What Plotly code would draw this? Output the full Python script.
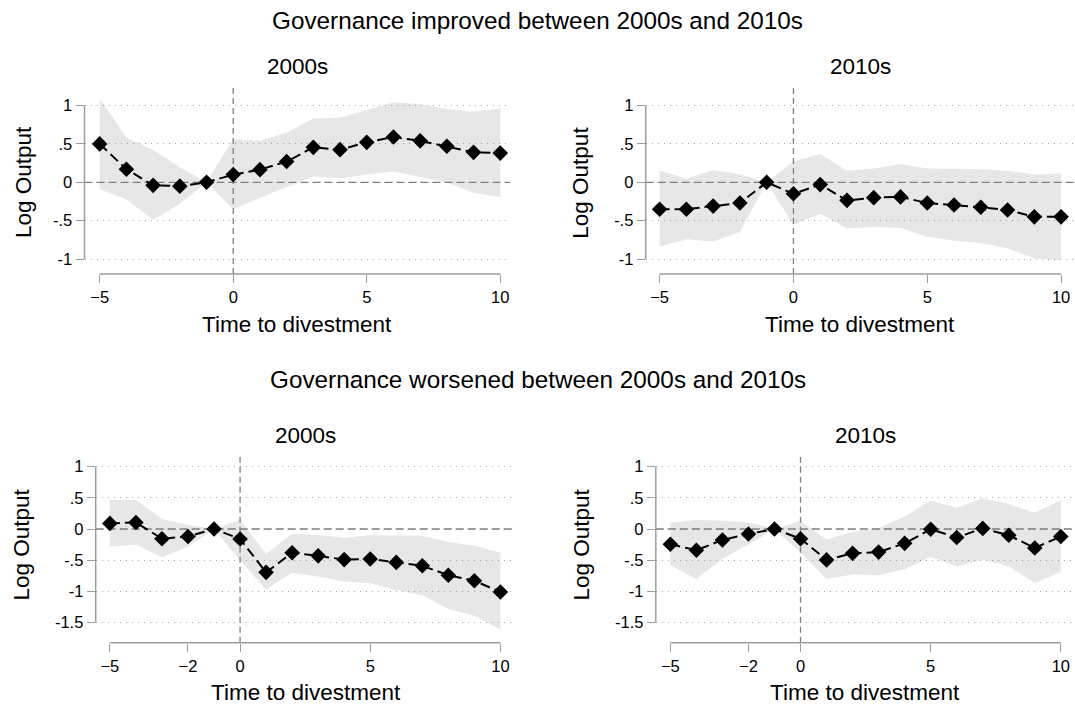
import plotly.graph_objects as go

# Event time (years relative to divestment)
event_time = list(range(-5, 11))

# Governance improved between 2000s and 2010s
improved_2000s_coef = [0.50, 0.17, -0.04, -0.05, 0.0, 0.10, 0.165, 0.27, 0.455, 0.425, 0.52, 0.59, 0.54, 0.47, 0.39, 0.38]
improved_2000s_hi = [1.09, 0.585, 0.42, 0.195, 0.0, 0.565, 0.54, 0.645, 0.83, 0.84, 0.94, 1.04, 1.02, 0.955, 0.92, 0.96]
improved_2000s_lo = [-0.09, -0.22, -0.49, -0.28, 0.0, -0.35, -0.20, -0.065, 0.08, 0.05, 0.10, 0.14, 0.07, 0.0, -0.135, -0.19]

improved_2010s_coef = [-0.35, -0.35, -0.31, -0.27, 0.0, -0.15, -0.03, -0.235, -0.20, -0.19, -0.27, -0.295, -0.325, -0.36, -0.45, -0.45]
improved_2010s_hi = [0.155, 0.045, 0.16, 0.105, 0.0, 0.27, 0.37, 0.15, 0.18, 0.235, 0.18, 0.175, 0.17, 0.15, 0.10, 0.115]
improved_2010s_lo = [-0.84, -0.74, -0.77, -0.645, 0.0, -0.555, -0.41, -0.60, -0.58, -0.595, -0.71, -0.76, -0.79, -0.86, -0.99, -1.015]

# Governance worsened between 2000s and 2010s
worsened_2000s_coef = [0.09, 0.105, -0.155, -0.12, 0.0, -0.16, -0.695, -0.38, -0.43, -0.49, -0.48, -0.535, -0.59, -0.74, -0.83, -1.01]
worsened_2000s_hi = [0.465, 0.465, 0.16, 0.065, 0.0, 0.15, -0.40, -0.075, -0.095, -0.14, -0.10, -0.10, -0.11, -0.21, -0.27, -0.38]
worsened_2000s_lo = [-0.28, -0.25, -0.455, -0.28, 0.0, -0.50, -0.97, -0.70, -0.76, -0.84, -0.87, -0.98, -1.06, -1.28, -1.39, -1.61]

worsened_2010s_coef = [-0.245, -0.34, -0.175, -0.08, 0.0, -0.155, -0.495, -0.39, -0.37, -0.23, -0.005, -0.135, 0.01, -0.10, -0.305, -0.12]
worsened_2010s_hi = [0.10, 0.145, 0.135, 0.105, 0.0, 0.13, -0.165, -0.05, 0.015, 0.20, 0.455, 0.34, 0.49, 0.40, 0.26, 0.46]
worsened_2010s_lo = [-0.58, -0.80, -0.475, -0.25, 0.0, -0.38, -0.80, -0.73, -0.74, -0.645, -0.445, -0.60, -0.49, -0.60, -0.865, -0.69]

# Tick labels
top_ytick_vals = [-1, -0.5, 0, 0.5, 1]
top_ytick_text = ["-1", "-.5", "0", ".5", "1"]
bottom_ytick_vals = [-1.5, -1, -0.5, 0, 0.5, 1]
bottom_ytick_text = ["-1.5", "-1", "-.5", "0", ".5", "1"]
top_xtick_vals = [-5, 0, 5, 10]
bottom_xtick_vals = [-5, -2, 0, 5, 10]

section_titles = ["Governance improved between 2000s and 2010s",
                  "Governance worsened between 2000s and 2010s"]
panel_titles = ["2000s", "2010s", "2000s", "2010s"]
x_title = "Time to divestment"
y_title = "Log Output"

FONT = "Arial, 'Liberation Sans', sans-serif"
W, H = 1075, 706
AXIS_GREY = "#9c9c9c"
REF_GREY = "#7f7f7f"
BAND = "rgba(120,120,120,0.18)"
TICK_SIZE = 16.5
LABEL_SIZE = 22.5

# panel layout: (x domain, y domain, x range, y range, xticks, yticks, yticktext, series)
panels = [
    dict(xd=[84.5 / W, 510.4 / W], yd=[1 - 274 / H, 1 - 84 / H], xr=[-5.57, 10.38], yr=[-1.194, 1.28],
         xt=top_xtick_vals, yt=top_ytick_vals, ytt=top_ytick_text,
         coef=improved_2000s_coef, hi=improved_2000s_hi, lo=improved_2000s_lo, ytx=23.7),
    dict(xd=[645.7 / W, 1.0], yd=[1 - 274 / H, 1 - 84 / H], xr=[-5.52, 10.52], yr=[-1.194, 1.28],
         xt=top_xtick_vals, yt=top_ytick_vals, ytt=top_ytick_text,
         coef=improved_2010s_coef, hi=improved_2010s_hi, lo=improved_2010s_lo, ytx=580.4),
    dict(xd=[95.7 / W, 515.5 / W], yd=[1 - 642.7 / H, 1 - 453 / H], xr=[-5.545, 10.58], yr=[-1.822, 1.218],
         xt=bottom_xtick_vals, yt=bottom_ytick_vals, ytt=bottom_ytick_text,
         coef=worsened_2000s_coef, hi=worsened_2000s_hi, lo=worsened_2000s_lo, ytx=22.0),
    dict(xd=[655.8 / W, 1.0], yd=[1 - 642.7 / H, 1 - 453 / H], xr=[-5.56, 10.545], yr=[-1.822, 1.218],
         xt=bottom_xtick_vals, yt=bottom_ytick_vals, ytt=bottom_ytick_text,
         coef=worsened_2010s_coef, hi=worsened_2010s_hi, lo=worsened_2010s_lo, ytx=582.0),
]

fig = go.Figure()
layout = {}
shapes = []
annotations = []

for i, p in enumerate(panels):
    n = "" if i == 0 else str(i + 1)
    xa, ya = "x" + n, "y" + n

    # confidence band
    fig.add_trace(go.Scatter(x=event_time, y=p["lo"], mode="lines", line=dict(width=0),
                             xaxis=xa, yaxis=ya, showlegend=False, hoverinfo="skip"))
    fig.add_trace(go.Scatter(x=event_time, y=p["hi"], mode="lines", line=dict(width=0),
                             fill="tonexty", fillcolor=BAND,
                             xaxis=xa, yaxis=ya, showlegend=False, hoverinfo="skip"))

    # reference lines at zero
    fig.add_trace(go.Scatter(x=p["xr"], y=[0, 0], mode="lines",
                             line=dict(color=REF_GREY, width=1.3, dash="8px,4px"),
                             xaxis=xa, yaxis=ya, showlegend=False, hoverinfo="skip"))
    fig.add_trace(go.Scatter(x=[0, 0], y=p["yr"], mode="lines",
                             line=dict(color=REF_GREY, width=1.3, dash="6px,4px"),
                             xaxis=xa, yaxis=ya, showlegend=False, hoverinfo="skip"))

    # point estimates
    fig.add_trace(go.Scatter(x=event_time, y=p["coef"], mode="lines+markers",
                             line=dict(color="black", width=2, dash="10px,5px"),
                             marker=dict(symbol="diamond", size=12, color="black"),
                             xaxis=xa, yaxis=ya, showlegend=False))

    layout["xaxis" + n] = dict(domain=p["xd"], range=p["xr"], anchor=ya, tickvals=p["xt"],
                               ticks="outside", ticklen=8, tickcolor=AXIS_GREY, tickwidth=1.3,
                               showgrid=False, zeroline=False, showline=False,
                               tickfont=dict(family=FONT, size=TICK_SIZE, color="black"))
    layout["yaxis" + n] = dict(domain=p["yd"], range=p["yr"], anchor=xa, tickvals=p["yt"],
                               ticktext=p["ytt"], ticks="outside", ticklen=8, tickcolor=AXIS_GREY,
                               tickwidth=1.3, showgrid=True, gridcolor="#a8a8a8", gridwidth=1,
                               griddash="1px,5px", zeroline=False, showline=False,
                               tickfont=dict(family=FONT, size=TICK_SIZE, color="black"))

    # axis lines spanning only the labelled range
    shapes.append(dict(type="line", xref=xa, yref=ya + " domain", x0=p["xt"][0], x1=p["xt"][-1],
                       y0=0, y1=0, line=dict(color=AXIS_GREY, width=1.5)))
    shapes.append(dict(type="line", xref=xa + " domain", yref=ya, x0=0, x1=0,
                       y0=p["yt"][0], y1=p["yt"][-1], line=dict(color=AXIS_GREY, width=1.5)))

    xc = (p["xd"][0] + p["xd"][1]) / 2
    top_px = (1 - p["yd"][1]) * H
    bot_px = (1 - p["yd"][0]) * H
    annotations.append(dict(text=panel_titles[i], x=xc, y=1 - (top_px - 17) / H, xref="paper", yref="paper",
                            showarrow=False, xanchor="center", yanchor="middle",
                            font=dict(family=FONT, size=LABEL_SIZE, color="black")))
    annotations.append(dict(text=x_title, x=xc, y=1 - (bot_px + 50) / H, xref="paper", yref="paper",
                            showarrow=False, xanchor="center", yanchor="middle",
                            font=dict(family=FONT, size=LABEL_SIZE, color="black")))
    ymid = (p["yt"][0] + p["yt"][-1]) / 2
    annotations.append(dict(text=y_title, x=p["ytx"] / W, y=ymid, xref="paper", yref=ya,
                            showarrow=False, xanchor="center", yanchor="middle", textangle=-90,
                            font=dict(family=FONT, size=LABEL_SIZE, color="black")))

# section headings
annotations.append(dict(text=section_titles[0], x=0.5, y=1 - 20 / H, xref="paper", yref="paper",
                        showarrow=False, xanchor="center", yanchor="middle",
                        font=dict(family=FONT, size=24.3, color="black")))
annotations.append(dict(text=section_titles[1], x=0.5, y=1 - 380 / H, xref="paper", yref="paper",
                        showarrow=False, xanchor="center", yanchor="middle",
                        font=dict(family=FONT, size=24.3, color="black")))

fig.update_layout(width=W, height=H, margin=dict(l=0, r=0, t=0, b=0),
                  paper_bgcolor="white", plot_bgcolor="white",
                  shapes=shapes, annotations=annotations, **layout)

fig.write_html("out.html")
